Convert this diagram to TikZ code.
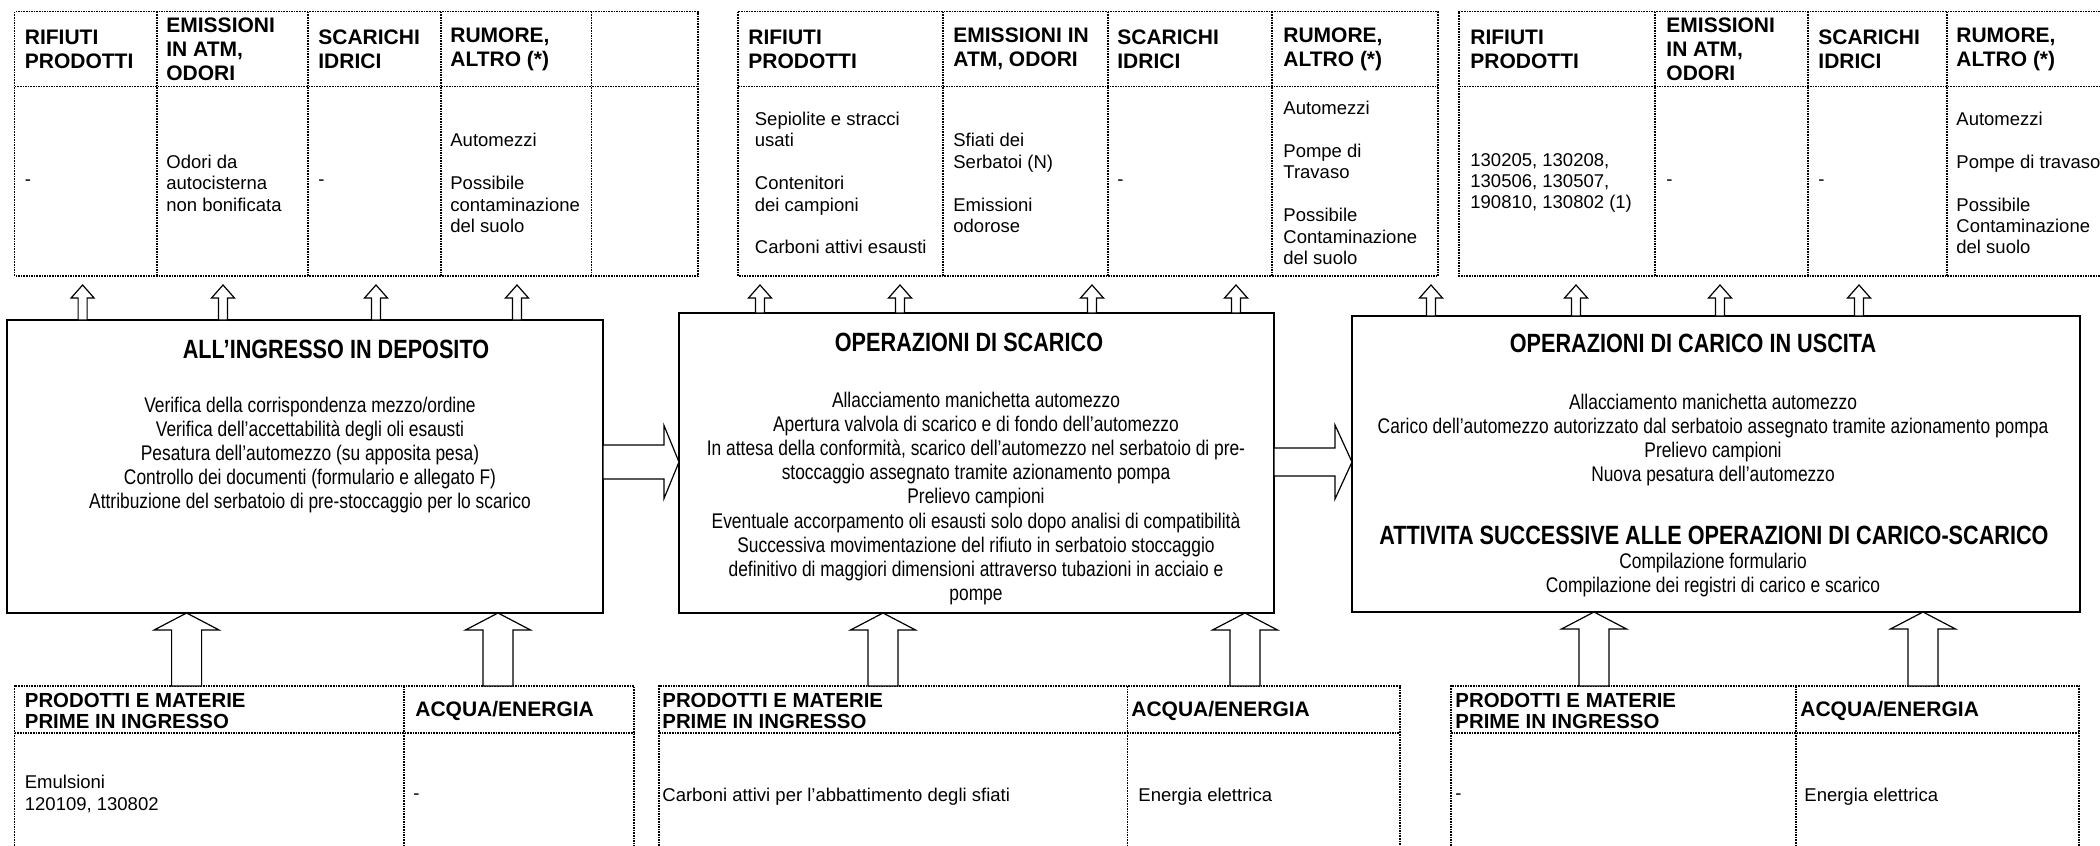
\documentclass[tikz,border=0pt]{standalone}
\usepackage{fontspec}
\setmainfont{Liberation Sans}
\newfontfamily\narrowfont[FakeStretch=0.82]{Liberation Sans}
\usetikzlibrary{calc}

\newcommand{\cellfont}{\fontsize{9.25}{10.7}\selectfont}
\newcommand{\headfont}{\bfseries\fontsize{10.5}{12}\selectfont}
\newcommand{\inheadfont}{\bfseries\fontsize{10.2}{10.5}\selectfont}
\newcommand{\boxfont}{\narrowfont\fontsize{10.6}{12.1}\selectfont}
\newcommand{\titlefont}{\narrowfont\bfseries\fontsize{13.2}{15}\selectfont}

% block arrows: base, tip, shaft half width, head half width, head length
\newcommand{\blkup}[5]{\draw[blk] let \p1=#1, \p2=#2 in
  (\x1-#3,\y1) -- (\x1-#3,\y2-#5) -- (\x1-#4,\y2-#5) -- (\x1,\y2)
  -- (\x1+#4,\y2-#5) -- (\x1+#3,\y2-#5) -- (\x1+#3,\y1) -- cycle;}
\newcommand{\blkright}[5]{\draw[blk] let \p1=#1, \p2=#2 in
  (\x1,\y1-#3) -- (\x2-#5,\y1-#3) -- (\x2-#5,\y1-#4) -- (\x2,\y1)
  -- (\x2-#5,\y1+#4) -- (\x2-#5,\y1+#3) -- (\x1,\y1+#3) -- cycle;}

\tikzset{
  tabline/.style={line width=0.55pt, dash pattern=on 0.8pt off 0.5pt},
  opbox/.style={draw, line width=1.2pt, inner sep=0pt, outer sep=0pt},
  blk/.style={draw, fill=white, line width=0.6pt, miter limit=25},
  hd/.style={font=\headfont, anchor=west, align=left, inner sep=0pt},
  inhd/.style={hd, font=\inheadfont},
  cell/.style={font=\cellfont, anchor=west, align=left, inner sep=0pt},
  ttl/.style={font=\titlefont, inner sep=0pt},
  txt/.style={font=\boxfont, align=center, inner sep=0pt},
}

\begin{document}
\begin{tikzpicture}[x=0.5pt, y=-0.5pt]
\newcommand{\TabTop}{11.7};  % top tables
\newcommand{\TabSep}{86.7};
\newcommand{\TabBot}{276};
\newcommand{\InTop}{686};    % bottom tables
\newcommand{\InSep}{733};
\newcommand{\gap}{\\[10.7pt]};

\useasboundingbox (0,0) rectangle (2100,846);

% top tables
\draw[tabline] (14.7,\TabTop) rectangle (698,\TabBot);
\draw[tabline] (14.7,\TabSep) -- (698,\TabSep);
\foreach \cx in {157,308,441,591.5}
  \draw[tabline] (\cx,\TabTop) -- (\cx,\TabBot);

\draw[tabline] (738,\TabTop) rectangle (1438,\TabBot);
\draw[tabline] (738,\TabSep) -- (1438,\TabSep);
\foreach \cx in {943,1108,1272}
  \draw[tabline] (\cx,\TabTop) -- (\cx,\TabBot);

\draw[tabline] (2100,\TabTop) -- (1459,\TabTop) -- (1459,\TabBot) -- (2100,\TabBot);
\draw[tabline] (1459,\TabSep) -- (2100,\TabSep);
\foreach \cx in {1655,1808,1947}
  \draw[tabline] (\cx,\TabTop) -- (\cx,\TabBot);

\node[hd] (h1a) at (24.5,49) {RIFIUTI\\PRODOTTI};
\node[hd] (h1b) at (166,49) {EMISSIONI\\IN ATM,\\ODORI};
\node[hd] (h1c) at (318,49) {SCARICHI\\IDRICI};
\node[hd] (h1d) at (450,49) {RUMORE,\\ALTRO (*)};
\node[cell] (c1a) at (24.5,183) {-};
\node[cell] (c1b) at (166,183) {Odori da\\autocisterna\\non bonificata};
\node[cell] (c1c) at (318,183) {-};
\node[cell] (c1d) at (450,183) {Automezzi\gap Possibile\\contaminazione\\del suolo};

\node[hd] (h2a) at (748,49) {RIFIUTI\\PRODOTTI};
\node[hd] (h2b) at (953,49) {EMISSIONI IN\\ATM, ODORI};
\node[hd] (h2c) at (1117,49) {SCARICHI\\IDRICI};
\node[hd] (h2d) at (1283,49) {RUMORE,\\ALTRO (*)};
\node[cell] (c2a) at (754.5,183) {Sepiolite e stracci\\usati\gap Contenitori\\dei campioni\gap Carboni attivi esausti};
\node[cell] (c2b) at (953,183) {Sfiati dei\\Serbatoi (N)\gap Emissioni\\odorose};
\node[cell] (c2c) at (1117,183) {-};
\node[cell] (c2d) at (1283,183) {Automezzi\gap Pompe di\\Travaso\gap Possibile\\Contaminazione\\del suolo};

\node[hd] (h3a) at (1470,49) {RIFIUTI\\PRODOTTI};
\node[hd] (h3b) at (1666,49) {EMISSIONI\\IN ATM,\\ODORI};
\node[hd] (h3c) at (1818,49) {SCARICHI\\IDRICI};
\node[hd] (h3d) at (1956,49) {RUMORE,\\ALTRO (*)};
\node[cell] (c3a) at (1470,183) {130205, 130208,\\130506, 130507,\\190810, 130802 (1)};
\node[cell] (c3b) at (1666,183) {-};
\node[cell] (c3c) at (1818,183) {-};
\node[cell] (c3d) at (1956,183) {Automezzi\gap Pompe di travaso\gap Possibile\\Contaminazione\\del suolo};

% operation boxes
\node[opbox, minimum width=298.2pt, minimum height=146.5pt] (ingresso) at (304.9,466.5) {};
\node[opbox, minimum width=297.5pt, minimum height=150pt] (scarico) at (976.5,463) {};
\node[opbox, minimum width=364pt, minimum height=148pt] (carico) at (1716,464) {};

\node[ttl] (t1) at (336,349) {ALL’INGRESSO IN DEPOSITO};
\node[txt] (b1) at (310,455) {Verifica della corrispondenza mezzo/ordine\\Verifica dell’accettabilità degli oli esausti\\Pesatura dell’automezzo (su apposita pesa)\\Controllo dei documenti (formulario e allegato F)\\Attribuzione del serbatoio di pre-stoccaggio per lo scarico};

\node[ttl] (t2) at (969,342) {OPERAZIONI DI SCARICO};
\node[txt] (b2) at (976,498.4) {Allacciamento manichetta automezzo\\Apertura valvola di scarico e di fondo dell’automezzo\\In attesa della conformità, scarico dell’automezzo nel serbatoio di pre-\\stoccaggio assegnato tramite azionamento pompa\\Prelievo campioni\\Eventuale accorpamento oli esausti solo dopo analisi di compatibilità\\Successiva movimentazione del rifiuto in serbatoio stoccaggio\\definitivo di maggiori dimensioni attraverso tubazioni in acciaio e\\pompe};

\node[ttl] (t3) at (1693,343) {OPERAZIONI DI CARICO IN USCITA};
\node[txt] (b3) at (1713,440) {Allacciamento manichetta automezzo\\Carico dell’automezzo autorizzato dal serbatoio assegnato tramite azionamento pompa\\Prelievo campioni\\Nuova pesatura dell’automezzo};
\node[ttl] (t4) at (1714,535) {ATTIVITA SUCCESSIVE ALLE OPERAZIONI DI CARICO-SCARICO};
\node[txt] (b4) at (1713,575) {Compilazione formulario\\Compilazione dei registri di carico e scarico};

% bottom tables
\draw[tabline] (14.7,846) -- (14.7,\InTop) -- (634,\InTop) -- (634,846);
\draw[tabline] (14.7,\InSep) -- (634,\InSep);
\draw[tabline] (404,\InTop) -- (404,846);

\draw[tabline] (659,846) -- (659,\InTop) -- (1400,\InTop) -- (1400,846);
\draw[tabline] (659,\InSep) -- (1400,\InSep);
\draw[tabline] (1127.5,\InTop) -- (1127.5,846);

\draw[tabline] (1451,846) -- (1451,\InTop) -- (2079,\InTop) -- (2079,846);
\draw[tabline] (1451,\InSep) -- (2079,\InSep);
\draw[tabline] (1796,\InTop) -- (1796,846);

\node[inhd] (p1a) at (24.5,711) {PRODOTTI E MATERIE\\PRIME IN INGRESSO};
\node[hd] (p1b) at (415,711) {ACQUA/ENERGIA};
\node[cell] (q1a) at (24.5,794) {Emulsioni\\120109, 130802};
\node[cell] (q1b) at (413,797) {-};

\node[inhd] (p2a) at (662,711) {PRODOTTI E MATERIE\\PRIME IN INGRESSO};
\node[hd] (p2b) at (1131,711) {ACQUA/ENERGIA};
\node[cell] (q2a) at (662,797) {Carboni attivi per l’abbattimento degli sfiati};
\node[cell] (q2b) at (1138,797) {Energia elettrica};

\node[inhd] (p3a) at (1455,711) {PRODOTTI E MATERIE\\PRIME IN INGRESSO};
\node[hd] (p3b) at (1800,711) {ACQUA/ENERGIA};
\node[cell] (q3a) at (1455,797) {-};
\node[cell] (q3b) at (1804,797) {Energia elettrica};

% small arrows up to the tables
\foreach \ax/\bx in {82.6/ingresso,223/ingresso,376/ingresso,517/ingresso,
                     760/scarico,900/scarico,1092/scarico,1236/scarico,
                     1431/carico,1576/carico,1720/carico,1859/carico}{
  \coordinate (out) at (\ax,285);
  \blkup{(out |- \bx.north)}{(out)}{2.25pt}{5.75pt}{6.5pt}
}

% large arrows from the bottom tables
\foreach \ax/\bx in {186.6/ingresso,498/ingresso,883/scarico,1245/scarico,1594/carico,1923/carico}{
  \coordinate (in) at (\ax,\InTop);
  \blkup{(in)}{(in |- \bx.south)}{7.5pt}{16.25pt}{8.5pt}
}

% arrows between the boxes
\coordinate (mid) at (0,462);
\blkright{(ingresso.east |- mid)}{(scarico.west |- mid)}{8.5pt}{18.25pt}{7.5pt}
\blkright{(scarico.east |- mid)}{(carico.west |- mid)}{7pt}{18.5pt}{8.5pt}
\end{tikzpicture}
\end{document}
